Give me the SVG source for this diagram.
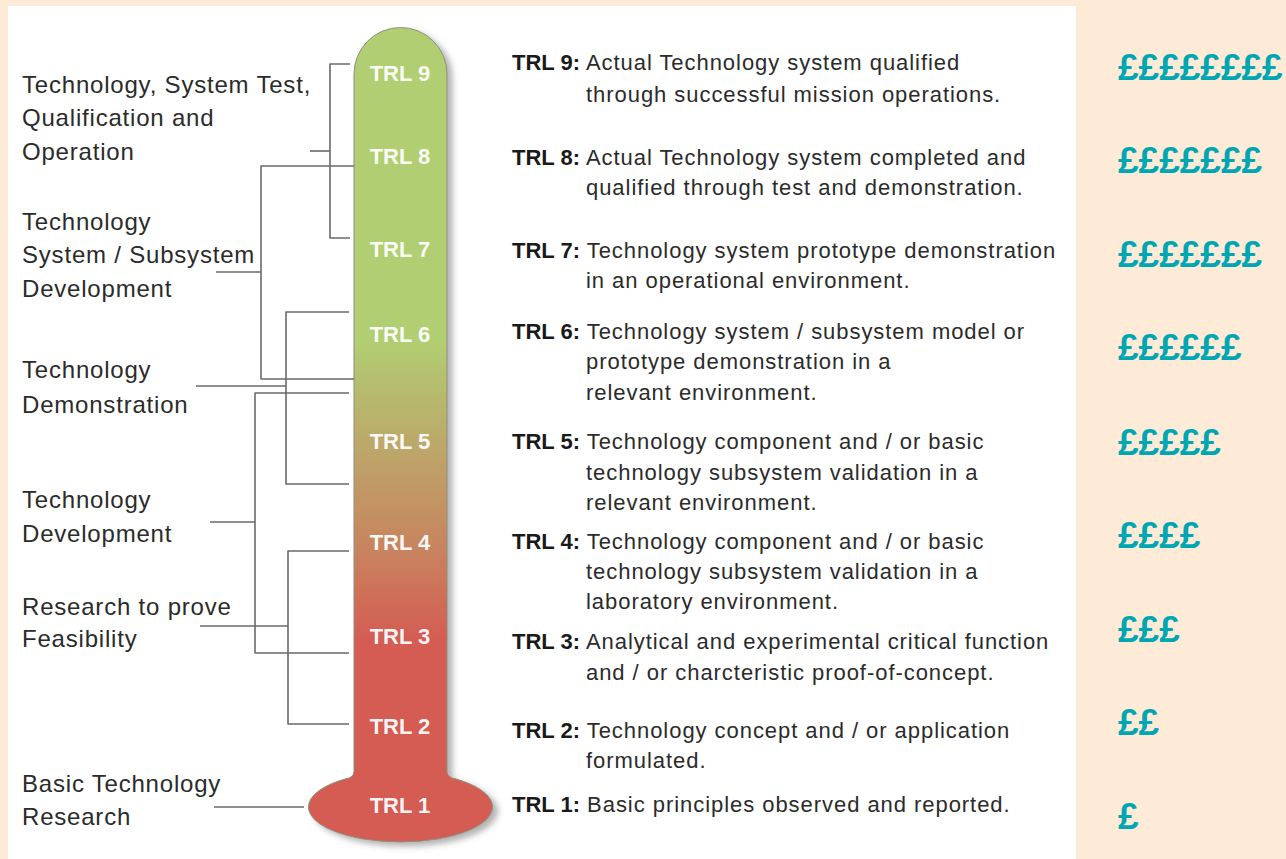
<svg xmlns="http://www.w3.org/2000/svg" width="1286" height="859" viewBox="0 0 1286 859">
<style>
.lbl{font-family:"Liberation Sans",Arial,sans-serif;font-size:24px;fill:#2b2b2b;letter-spacing:0.8px}
.desc{font-family:"Liberation Sans",Arial,sans-serif;font-size:22px;fill:#2b2b2b;letter-spacing:0.95px}
.desc .b{font-weight:bold;fill:#1a1a1a;letter-spacing:0}
.trl{font-family:"Liberation Sans",Arial,sans-serif;font-size:22px;font-weight:bold;fill:#ffffff;text-anchor:middle;fill-opacity:0.95}
.gbp{font-family:"Liberation Sans",Arial,sans-serif;font-size:37px;font-weight:bold;fill:#00a6b1}
.con{fill:none;stroke:#6a6a6a;stroke-width:1.6;stroke-linejoin:round}
</style>
<defs>
<linearGradient id="therm" gradientUnits="userSpaceOnUse" x1="0" y1="27" x2="0" y2="845">
<stop offset="0" stop-color="#b1cf72"/>
<stop offset="0.38" stop-color="#b1cf72"/>
<stop offset="0.51" stop-color="#bca86a"/>
<stop offset="0.63" stop-color="#c7865f"/>
<stop offset="0.75" stop-color="#d45c53"/>
<stop offset="1" stop-color="#d45b52"/>
</linearGradient>
<filter id="shadow" x="-20%" y="-5%" width="150%" height="115%">
<feDropShadow dx="5" dy="4" stdDeviation="3" flood-color="#555" flood-opacity="0.45"/>
</filter>
</defs>
<rect x="0" y="0" width="1286" height="859" fill="#fdebd8"/>
<rect x="8" y="6" width="1068" height="853" fill="#ffffff"/>

<g id="thermometer">
<path d="M354,74 A46.5,46.5 0 0 1 447,74 L447,772 Q448,778 456,779 A92,35 0 1 1 345,779 Q353,778 354,772 Z" fill="url(#therm)" stroke="#8f8f80" stroke-width="1" filter="url(#shadow)"/>
<text class="trl" x="400" y="81">TRL 9</text>
<text class="trl" x="400" y="164">TRL 8</text>
<text class="trl" x="400" y="257">TRL 7</text>
<text class="trl" x="400" y="342">TRL 6</text>
<text class="trl" x="400" y="449">TRL 5</text>
<text class="trl" x="400" y="550">TRL 4</text>
<text class="trl" x="400" y="644">TRL 3</text>
<text class="trl" x="400" y="734">TRL 2</text>
<text class="trl" x="400" y="813">TRL 1</text>
</g>

<g id="connectors">
<path class="con" d="M350,64 H330 V238 H350"/>
<path class="con" d="M310,151 H330"/>
<path class="con" d="M354,166 H261 V379 H354"/>
<path class="con" d="M216,272 H261"/>
<path class="con" d="M349,312 H286 V484 H349"/>
<path class="con" d="M196,386 H286"/>
<path class="con" d="M349,393 H255 V653 H349"/>
<path class="con" d="M210,522 H255"/>
<path class="con" d="M349,551 H288 V724 H349"/>
<path class="con" d="M200,626 H288"/>
<path class="con" d="M214,807 H304"/>
</g>

<g id="phase-test">
<text class="lbl" x="22" y="93">Technology, System Test,</text>
<text class="lbl" x="22" y="126">Qualification and</text>
<text class="lbl" x="22" y="160">Operation</text>
</g>
<g id="phase-system">
<text class="lbl" x="22" y="230">Technology</text>
<text class="lbl" x="22" y="263">System / Subsystem</text>
<text class="lbl" x="22" y="297">Development</text>
</g>
<g id="phase-demo">
<text class="lbl" x="22" y="378">Technology</text>
<text class="lbl" x="22" y="413">Demonstration</text>
</g>
<g id="phase-dev">
<text class="lbl" x="22" y="508">Technology</text>
<text class="lbl" x="22" y="542">Development</text>
</g>
<g id="phase-feas">
<text class="lbl" x="22" y="615">Research to prove</text>
<text class="lbl" x="22" y="647">Feasibility</text>
</g>
<g id="phase-basic">
<text class="lbl" x="22" y="792">Basic Technology</text>
<text class="lbl" x="22" y="825">Research</text>
</g>

<g id="desc-trl9" class="desc">
<text x="512" y="70"><tspan class="b">TRL 9:</tspan> Actual Technology system qualified</text>
<text x="586" y="102">through successful mission operations.</text>
</g>
<g id="desc-trl8" class="desc">
<text x="512" y="165"><tspan class="b">TRL 8:</tspan> Actual Technology system completed and</text>
<text x="586" y="195">qualified through test and demonstration.</text>
</g>
<g id="desc-trl7" class="desc">
<text x="512" y="258"><tspan class="b">TRL 7:</tspan> Technology system prototype demonstration</text>
<text x="586" y="288">in an operational environment.</text>
</g>
<g id="desc-trl6" class="desc">
<text x="512" y="339"><tspan class="b">TRL 6:</tspan> Technology system / subsystem model or</text>
<text x="586" y="369">prototype demonstration in a</text>
<text x="586" y="400">relevant environment.</text>
</g>
<g id="desc-trl5" class="desc">
<text x="512" y="449"><tspan class="b">TRL 5:</tspan> Technology component and / or basic</text>
<text x="586" y="480">technology subsystem validation in a</text>
<text x="586" y="510">relevant environment.</text>
</g>
<g id="desc-trl4" class="desc">
<text x="512" y="549"><tspan class="b">TRL 4:</tspan> Technology component and / or basic</text>
<text x="586" y="579">technology subsystem validation in a</text>
<text x="586" y="609">laboratory environment.</text>
</g>
<g id="desc-trl3" class="desc">
<text x="512" y="649"><tspan class="b">TRL 3:</tspan> Analytical and experimental critical function</text>
<text x="586" y="680">and / or charcteristic proof-of-concept.</text>
</g>
<g id="desc-trl2" class="desc">
<text x="512" y="738"><tspan class="b">TRL 2:</tspan> Technology concept and / or application</text>
<text x="586" y="768">formulated.</text>
</g>
<g id="desc-trl1" class="desc">
<text x="512" y="812"><tspan class="b">TRL 1:</tspan> Basic principles observed and reported.</text>
</g>

<g id="cost">
<text class="gbp" x="1118" y="80">££££££££</text>
<text class="gbp" x="1118" y="173">£££££££</text>
<text class="gbp" x="1118" y="267">£££££££</text>
<text class="gbp" x="1118" y="360">££££££</text>
<text class="gbp" x="1118" y="455">£££££</text>
<text class="gbp" x="1118" y="548">££££</text>
<text class="gbp" x="1118" y="642">£££</text>
<text class="gbp" x="1118" y="735">££</text>
<text class="gbp" x="1118" y="829">£</text>
</g>
</svg>
